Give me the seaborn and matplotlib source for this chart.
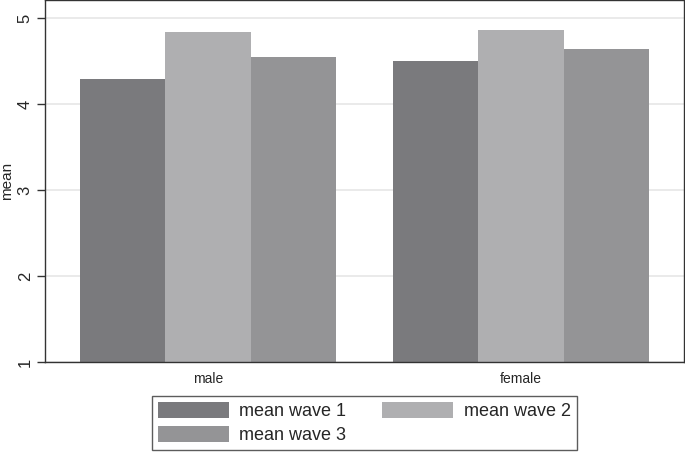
import pandas as pd
import matplotlib
matplotlib.use('Agg')
import matplotlib.pyplot as plt
import seaborn as sns

sexes = ['male', 'female']
wave1 = [4.30, 4.51]
wave2 = [4.84, 4.87]
wave3 = [4.55, 4.64]
series = ['mean wave 1', 'mean wave 2', 'mean wave 3']
kleuren = ['#7a7a7d', '#afafb1', '#949496']

df = pd.DataFrame({
    'sex': sexes * 3,
    'serie': [s for s in series for _ in sexes],
    'mean': wave1 + wave2 + wave3,
})

sns.set_theme(style='white')
plt.rcParams['font.family'] = ['Liberation Sans', 'DejaVu Sans']

fig = plt.figure(figsize=(6.85, 4.55), dpi=100)
ax = fig.add_axes([0.066, 0.204, 0.932, 0.795])

sns.barplot(data=df, x='sex', y='mean', hue='serie', palette=kleuren,
            width=0.82, saturation=1, ax=ax, legend=True)

ax.set_ylim(1, 5.21)
ax.set_xlim(-0.52, 1.52)
ax.set_yticks([1, 2, 3, 4, 5])
ax.yaxis.grid(True, color='#e6e6e6', linewidth=1.2)
ax.set_axisbelow(True)
ax.tick_params(axis='y', length=6, width=1, color='#333333', labelsize=12,
               labelrotation=90, left=True, pad=3)
for lab in ax.get_yticklabels():
    lab.set_va('center')
ax.tick_params(axis='x', length=0, labelsize=10, pad=7)
ax.set_xlabel('')
ax.set_ylabel('mean', fontsize=11)
ax.yaxis.set_label_coords(-0.049, 0.5)
for sp in ax.spines.values():
    sp.set_color('#333333')
    sp.set_linewidth(1)

for p in ax.patches:
    p.set_edgecolor('none')

# rij-volgorde zoals origineel: wave1, wave2 / wave3
handles, labels = ax.get_legend_handles_labels()
volgorde = [0, 2, 1]
ax.legend([handles[i] for i in volgorde], [labels[i] for i in volgorde],
          loc='upper center', bbox_to_anchor=(0.5, -0.068),
          ncol=2, frameon=True, fancybox=False, edgecolor='#333333',
          fontsize=13, handlelength=3.9, handleheight=1.0,
          columnspacing=2.0, borderpad=0.35, labelspacing=0.3,
          handletextpad=0.6)
ax.get_legend().get_frame().set_linewidth(1)

fig.savefig('out.png', dpi=100)
